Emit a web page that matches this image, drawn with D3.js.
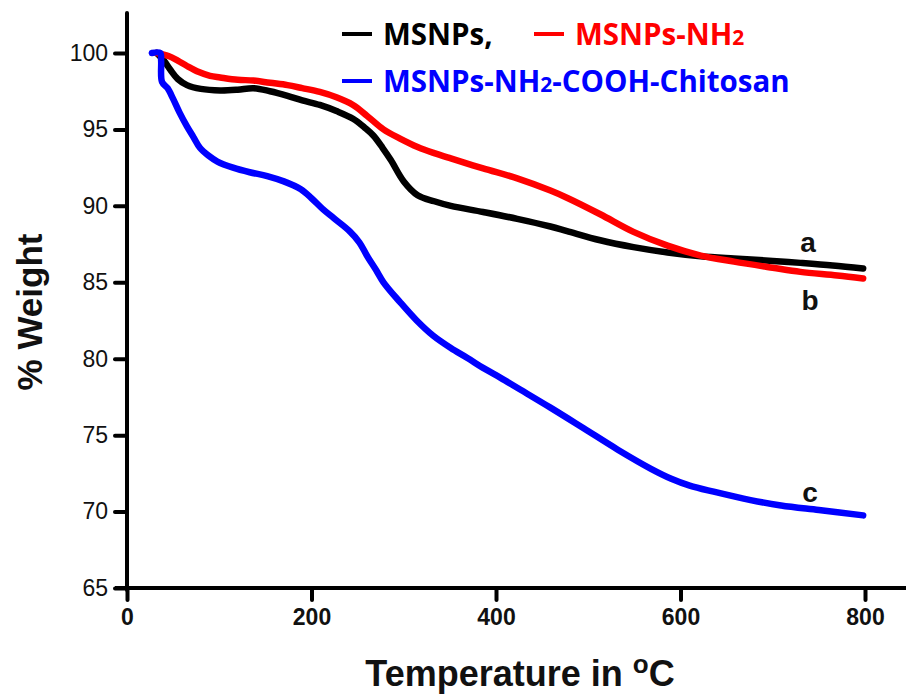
<!DOCTYPE html>
<html>
<head>
<meta charset="utf-8">
<script src="https://cdn.jsdelivr.net/npm/d3@7"></script>
<style>
  html, body { margin: 0; padding: 0; background: #fff; }
  svg { display: block; }
</style>
</head>
<body>
<svg id="chart" width="906" height="694"></svg>
<script>
// TGA curves: temperature (°C) and residual weight (%)
const msnpTemp = [32, 40, 47, 55, 65, 80, 101, 120, 137, 155, 174, 190, 209, 227, 245, 258, 267, 277, 286, 300, 315, 333, 351, 386, 423, 459, 477, 513, 549, 586, 622, 658, 700, 730, 765, 798];
const msnpWeight = [100, 99.5, 98.9, 98.3, 97.9, 97.65, 97.55, 97.6, 97.7, 97.5, 97.2, 96.9, 96.6, 96.2, 95.7, 95.1, 94.6, 93.8, 93.0, 91.6, 90.7, 90.3, 90.0, 89.6, 89.15, 88.65, 88.35, 87.75, 87.3, 86.95, 86.7, 86.55, 86.4, 86.27, 86.1, 85.9];

const nh2Temp = [32, 45, 55, 65, 78, 90, 101, 120, 137, 155, 174, 190, 209, 227, 245, 260, 278, 296, 315, 333, 351, 386, 423, 459, 478, 513, 549, 586, 622, 658, 700, 730, 770, 798];
const nh2Weight = [100, 99.8, 99.5, 99.15, 98.75, 98.5, 98.4, 98.25, 98.2, 98.05, 97.9, 97.7, 97.45, 97.1, 96.6, 95.9, 95.0, 94.4, 93.85, 93.45, 93.1, 92.45, 91.8, 91.0, 90.5, 89.45, 88.3, 87.4, 86.75, 86.35, 85.95, 85.68, 85.45, 85.25];

const chitosanTemp = [27, 36, 37, 38, 44, 50, 57, 65, 72, 79, 88, 98, 115, 133, 152, 170, 188, 200, 212, 224, 242, 252, 260, 270, 278, 296, 314, 332, 351, 369, 386, 405, 423, 459, 495, 532, 568, 590, 610, 636, 676, 709, 750, 798];
const chitosanWeight = [100, 100, 99.5, 98.1, 97.7, 97.0, 96.1, 95.2, 94.5, 93.8, 93.3, 92.9, 92.5, 92.2, 91.95, 91.6, 91.1, 90.5, 89.8, 89.2, 88.3, 87.6, 86.75, 85.8, 85.0, 83.7, 82.5, 81.5, 80.7, 80.05, 79.4, 78.75, 78.1, 76.8, 75.45, 74.05, 72.8, 72.15, 71.7, 71.3, 70.75, 70.4, 70.1, 69.75];

const xTicks = [0, 200, 400, 600, 800];
const yTicks = [65, 70, 75, 80, 85, 90, 95, 100];

const seriesNames = ["MSNPs,", "MSNPs-NH", "MSNPs-NH"];
const seriesColors = ["#000000", "#ff0000", "#0000ff"];
const curveLabels = ["a", "b", "c"];

const series = [
  { temp: msnpTemp, weight: msnpWeight, color: seriesColors[0] },
  { temp: nh2Temp, weight: nh2Weight, color: seriesColors[1] },
  { temp: chitosanTemp, weight: chitosanWeight, color: seriesColors[2] }
];

const svg = d3.select("#chart");

const x = d3.scaleLinear().domain([0, 800]).range([127, 865]);
const y = d3.scaleLinear().domain([65, 100]).range([588, 53]);

const axisColor = "#000";
const gAxes = svg.append("g");

// y axis
const yAxis = d3.axisLeft(y).tickValues(yTicks).tickSize(12).tickPadding(7).tickFormat(d3.format("d"));
const gy = gAxes.append("g").attr("transform", `translate(${x(0)},0)`).call(yAxis);
gy.select(".domain").remove();
gy.selectAll(".tick line").attr("stroke", axisColor).attr("stroke-width", 4).attr("stroke-linecap", "round");
gy.selectAll(".tick text").attr("font-family", "'Liberation Sans', Arial, sans-serif").attr("font-size", 23).attr("fill", "#111");
gAxes.append("line")
  .attr("x1", x(0)).attr("x2", x(0)).attr("y1", 13).attr("y2", y(65) + 2)
  .attr("stroke", axisColor).attr("stroke-width", 4).attr("stroke-linecap", "round");

// x axis
const xAxis = d3.axisBottom(x).tickValues(xTicks).tickSize(12).tickPadding(9).tickFormat(d3.format("d"));
const gx = gAxes.append("g").attr("transform", `translate(0,${y(65)})`).call(xAxis);
gx.select(".domain").remove();
gx.selectAll(".tick line").attr("stroke", axisColor).attr("stroke-width", 4).attr("stroke-linecap", "round");
gx.selectAll(".tick text").attr("font-family", "'Liberation Sans', Arial, sans-serif").attr("font-size", 23).attr("font-weight", "bold").attr("fill", "#111");
gAxes.append("line")
  .attr("x1", 115).attr("x2", 906).attr("y1", y(65)).attr("y2", y(65))
  .attr("stroke", axisColor).attr("stroke-width", 4);

// curves
const line = d3.line()
  .x(d => x(d[0]))
  .y(d => y(d[1]))
  .curve(d3.curveCatmullRom.alpha(0.5));

series.forEach(s => {
  const pts = s.temp.map((t, k) => [t, s.weight[k]]);
  svg.append("path")
    .datum(pts)
    .attr("d", line)
    .attr("fill", "none")
    .attr("stroke", s.color)
    .attr("stroke-width", 6.5)
    .attr("stroke-linecap", "round")
    .attr("stroke-linejoin", "round");
});

// curve letters
const letterFont = "'Liberation Sans', Arial, sans-serif";
const labelPos = [[808, 252], [810, 310], [810, 502]];
curveLabels.forEach((t, i) => {
  svg.append("text")
    .attr("x", labelPos[i][0]).attr("y", labelPos[i][1])
    .attr("text-anchor", "middle")
    .attr("font-family", letterFont).attr("font-weight", "bold").attr("font-size", 28)
    .attr("fill", "#111")
    .text(t);
});

// legend
const legendFont = "'Open Sans', Lato, sans-serif";
const legend = svg.append("g").attr("font-family", legendFont).attr("font-weight", "bold").attr("font-size", 29.5);

function legendEntry(x0, yBase, color, main, tail) {
  legend.append("line")
    .attr("x1", x0).attr("x2", x0 + 30).attr("y1", yBase - 11).attr("y2", yBase - 11)
    .attr("stroke", color).attr("stroke-width", 4);
  const t = legend.append("text").attr("x", x0 + 41).attr("y", yBase).attr("fill", color);
  t.append("tspan").text(main);
  if (tail !== null) {
    t.append("tspan").attr("font-size", 21).text("2");
    if (tail) t.append("tspan").text(tail);
  }
}
legendEntry(342, 45, seriesColors[0], seriesNames[0], null);
legendEntry(534, 45, seriesColors[1], seriesNames[1], "");
legendEntry(342, 92, seriesColors[2], seriesNames[2], "-COOH-Chitosan");

// axis titles
const titleFont = "'Liberation Sans', Arial, sans-serif";
svg.append("text")
  .attr("transform", "translate(42,312) rotate(-90)")
  .attr("text-anchor", "middle")
  .attr("font-family", titleFont).attr("font-weight", "bold").attr("font-size", 35)
  .attr("fill", "#111")
  .text("% Weight");

const xt = svg.append("text")
  .attr("x", 520).attr("y", 686)
  .attr("text-anchor", "middle")
  .attr("font-family", titleFont).attr("font-weight", "bold").attr("font-size", 36)
  .attr("fill", "#111");
xt.append("tspan").text("Temperature in ");
xt.append("tspan").attr("font-size", 26).attr("dy", -13).text("o");
xt.append("tspan").attr("dy", 13).text("C");
</script>
</body>
</html>
